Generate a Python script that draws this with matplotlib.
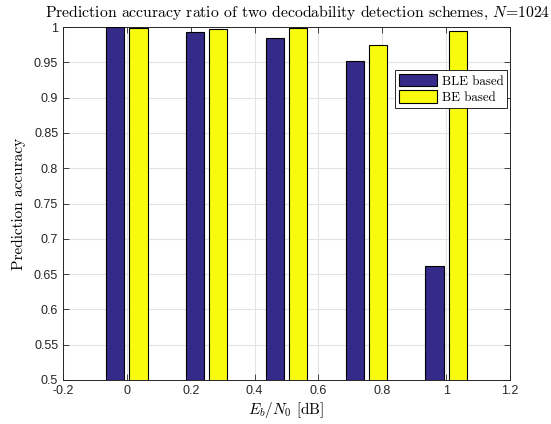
import matplotlib
matplotlib.use("Agg")
import matplotlib.pyplot as plt
import numpy as np

plt.rcParams['mathtext.fontset'] = 'cm'

ebn0 = [0.0, 0.25, 0.5, 0.75, 1.0]
ble_based = [1.000, 0.993, 0.984, 0.952, 0.661]
be_based = [0.998, 0.997, 0.998, 0.975, 0.994]
series_labels = ['BLE based', 'BE based']
xticks = [-0.2, 0, 0.2, 0.4, 0.6, 0.8, 1, 1.2]
xticklabels = ['-0.2', '0', '0.2', '0.4', '0.6', '0.8', '1', '1.2']
yticks = [0.5, 0.55, 0.6, 0.65, 0.7, 0.75, 0.8, 0.85, 0.9, 0.95, 1.0]
yticklabels = ['0.5', '0.55', '0.6', '0.65', '0.7', '0.75', '0.8', '0.85', '0.9', '0.95', '1']

fig = plt.figure(figsize=(5.51, 4.24), dpi=100)
ax = fig.add_axes([63/551, 1-380/424, (510-63)/551, (380-27)/424])

x = np.array(ebn0)
w = 0.057
off = 0.0365
serif = 'cmr10'
ax.bar(x - off, ble_based, width=w, color='#352A87', edgecolor='black', linewidth=0.8,
       label=series_labels[0], zorder=3)
ax.bar(x + off, be_based, width=w, color='#F9FB0E', edgecolor='black', linewidth=0.8,
       label=series_labels[1], zorder=3)

ax.set_xlim(-0.2, 1.2)
ax.set_ylim(0.5, 1.0)
ax.set_xticks(xticks)
ax.set_xticklabels(xticklabels, fontfamily='Liberation Sans', fontsize=9)
ax.set_yticks(yticks)
ax.set_yticklabels(yticklabels, fontfamily='Liberation Sans', fontsize=9)
ax.grid(True, color='#e3e3e3', linewidth=0.8, zorder=0)
ax.set_axisbelow(True)
ax.tick_params(direction='in', top=True, right=True, length=4, width=0.6, colors='#262626')
for s in ax.spines.values():
    s.set_linewidth(0.7)
    s.set_color('#262626')

ax.set_title(r'Prediction accuracy ratio of two decodability detection schemes, $N$=1024',
             fontfamily=serif, fontsize=11.3, pad=7, x=0.525)
ax.set_xlabel(r'$E_b/N_0$ [dB]', fontfamily=serif, fontsize=11, labelpad=2)
ax.set_ylabel('Prediction accuracy', fontfamily=serif, fontsize=11, labelpad=6)

leg = ax.legend(loc='upper right', bbox_to_anchor=(1.0, 0.885), prop={'family': serif, 'size': 9.3},
                fancybox=False, edgecolor='#262626', framealpha=1, handlelength=2.9,
                handleheight=1.1, borderaxespad=0.2, labelspacing=0.2, handletextpad=0.4,
                borderpad=0.3)
leg.get_frame().set_linewidth(0.7)

fig.savefig('out.png', dpi=100)
